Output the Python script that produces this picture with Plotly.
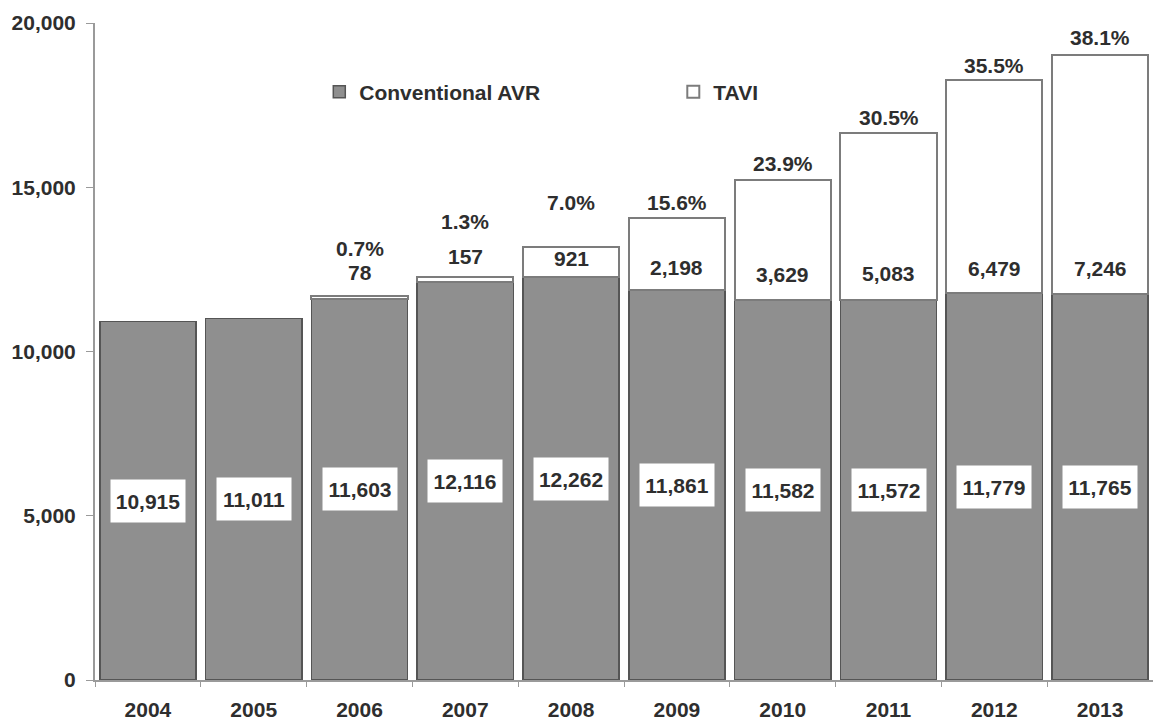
import plotly.graph_objects as go

# Aortic valve replacement volumes per year
years = ["2004", "2005", "2006", "2007", "2008", "2009", "2010", "2011", "2012", "2013"]
avr = [10915, 11011, 11603, 12116, 12262, 11861, 11582, 11572, 11779, 11765]
tavi = [0, 0, 78, 157, 921, 2198, 3629, 5083, 6479, 7246]
tavi_share = ["", "", "0.7%", "1.3%", "7.0%", "15.6%", "23.9%", "30.5%", "35.5%", "38.1%"]
y_ticks = [0, 5000, 10000, 15000, 20000]

FONT = "Liberation Sans, Arial, sans-serif"
TXT = "#2e2e2e"
FS = 21

fig = go.Figure()
fig.add_trace(go.Bar(
    x=years, y=avr, name="Conventional AVR",
    marker=dict(color="#8f8f8f", line=dict(color="#555555", width=1.5)),
))
fig.add_trace(go.Bar(
    x=years, y=[v if v else None for v in tavi], name="TAVI",
    marker=dict(color="#ffffff", line=dict(color="#7c7c7c", width=2)),
))

annotations = []
# AVR counts in white boxes at mid-bar (x given as category index)
for i, v in enumerate(avr):
    annotations.append(dict(
        x=i, y=v / 2, text=f"{v:,}", showarrow=False,
        font=dict(family=FONT, size=FS, color=TXT, weight="bold"),
        bgcolor="#ffffff", borderpad=5, width=64, height=32,
        xanchor="center", yanchor="middle",
    ))

# TAVI counts just above the AVR segment, share of total above the stack
count_shift = [0, 0, 26, 25, 19, 23, 25, 26, 25, 25]
share_shift = [0, 0, 48, 55, 44, 16, 17, 15, 15, 18]
for i in range(len(years)):
    if not tavi[i]:
        continue
    annotations.append(dict(
        x=i, y=avr[i], text=f"{tavi[i]:,}", showarrow=False,
        font=dict(family=FONT, size=FS, color=TXT, weight="bold"),
        xanchor="center", yanchor="middle", yshift=count_shift[i],
    ))
    annotations.append(dict(
        x=i, y=avr[i] + tavi[i], text=tavi_share[i], showarrow=False,
        font=dict(family=FONT, size=FS, color=TXT, weight="bold"),
        xanchor="center", yanchor="middle", yshift=share_shift[i],
    ))

fig.update_layout(
    barmode="stack",
    bargap=0.09,
    width=1153, height=722,
    margin=dict(l=95, r=0, t=23, b=42),
    paper_bgcolor="#ffffff", plot_bgcolor="#ffffff",
    font=dict(family=FONT, size=FS, color=TXT),
    showlegend=True,
    legend=dict(
        orientation="h", x=0.212, y=0.895, xanchor="left", yanchor="middle",
        font=dict(family=FONT, size=FS, color=TXT, weight="bold"),
        entrywidth=309, entrywidthmode="pixels",
        bgcolor="rgba(0,0,0,0)", traceorder="normal",
    ),
    annotations=annotations,
    xaxis=dict(
        type="category", range=[-0.5, len(years) - 0.5],
        showgrid=False, showline=True, linecolor="#9a9a9a", linewidth=2,
        ticks="outside", tickson="boundaries", ticklen=5, tickcolor="#9a9a9a", tickwidth=1,
        tickfont=dict(family=FONT, size=FS, color=TXT, weight="bold"),
        ticklabelstandoff=10, tickangle=0,
    ),
    yaxis=dict(
        range=[0, 20000], tickvals=y_ticks, tickformat=",", showgrid=False, zeroline=False,
        showline=True, linecolor="#9a9a9a", linewidth=2,
        ticks="outside", ticklen=7, tickcolor="#9a9a9a", tickwidth=1,
        tickfont=dict(family=FONT, size=FS, color=TXT, weight="bold"),
        ticklabelstandoff=6,
    ),
)

fig.write_html("out.html")
